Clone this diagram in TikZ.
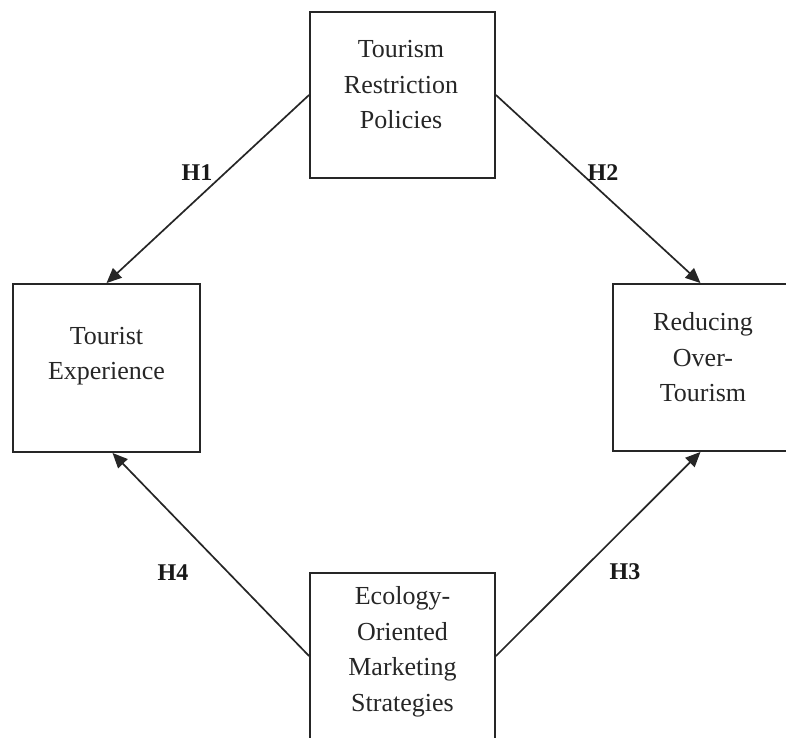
\documentclass[tikz,border=0pt]{standalone}
\usepackage{fontspec}
\setmainfont{Liberation Serif}
\usetikzlibrary{arrows.meta}
\begin{document}
\begin{tikzpicture}[x=1pt,y=1pt,
  box/.style={draw=black!85, line width=1.9pt, minimum width=185pt, minimum height=166pt, inner sep=0pt},
  txt/.style={align=center, font=\fontsize{26}{35.5}\selectfont, text=black!85, inner sep=0pt},
  lab/.style={font=\bfseries\fontsize{24}{28}\selectfont, text=black!90, inner sep=0pt},
  arr/.style={draw=black!85, line width=1.7pt, -{Triangle[length=15pt,width=13pt]}}]
\useasboundingbox (0,0) rectangle (786,737);
\clip (0,0) rectangle (786,737);
\node[box] (top) at (402.5,642) {};
\node[box, minimum width=187pt, minimum height=168pt] (left) at (106.5,369) {};
\node[box, minimum width=187pt, minimum height=167pt] (right) at (706.5,369.5) {};
\node[box] (bot) at (402.5,81) {};
\node[txt] (toptxt) at (401,652) {Tourism\\Restriction\\Policies};
\node[txt] (lefttxt) at (106.5,381) {Tourist\\Experience};
\node[txt] (righttxt) at (703,379.5) {Reducing\\Over-\\Tourism};
\node[txt] (bottxt) at (402.5,85) {Ecology-\\Oriented\\Marketing\\Strategies};
\draw[arr] (top.west) -- (left.north);
\draw[arr] (top.east) -- ([xshift=-6pt]right.north);
\draw[arr] (bot.east) -- ([xshift=-6pt]right.south);
\draw[arr] (bot.west) -- ([xshift=6pt]left.south);
\node[lab] (h1) at (197,564) {H1};
\node[lab] (h2) at (603,564) {H2};
\node[lab] (h3) at (625,165) {H3};
\node[lab] (h4) at (173,164) {H4};
\end{tikzpicture}
\end{document}
